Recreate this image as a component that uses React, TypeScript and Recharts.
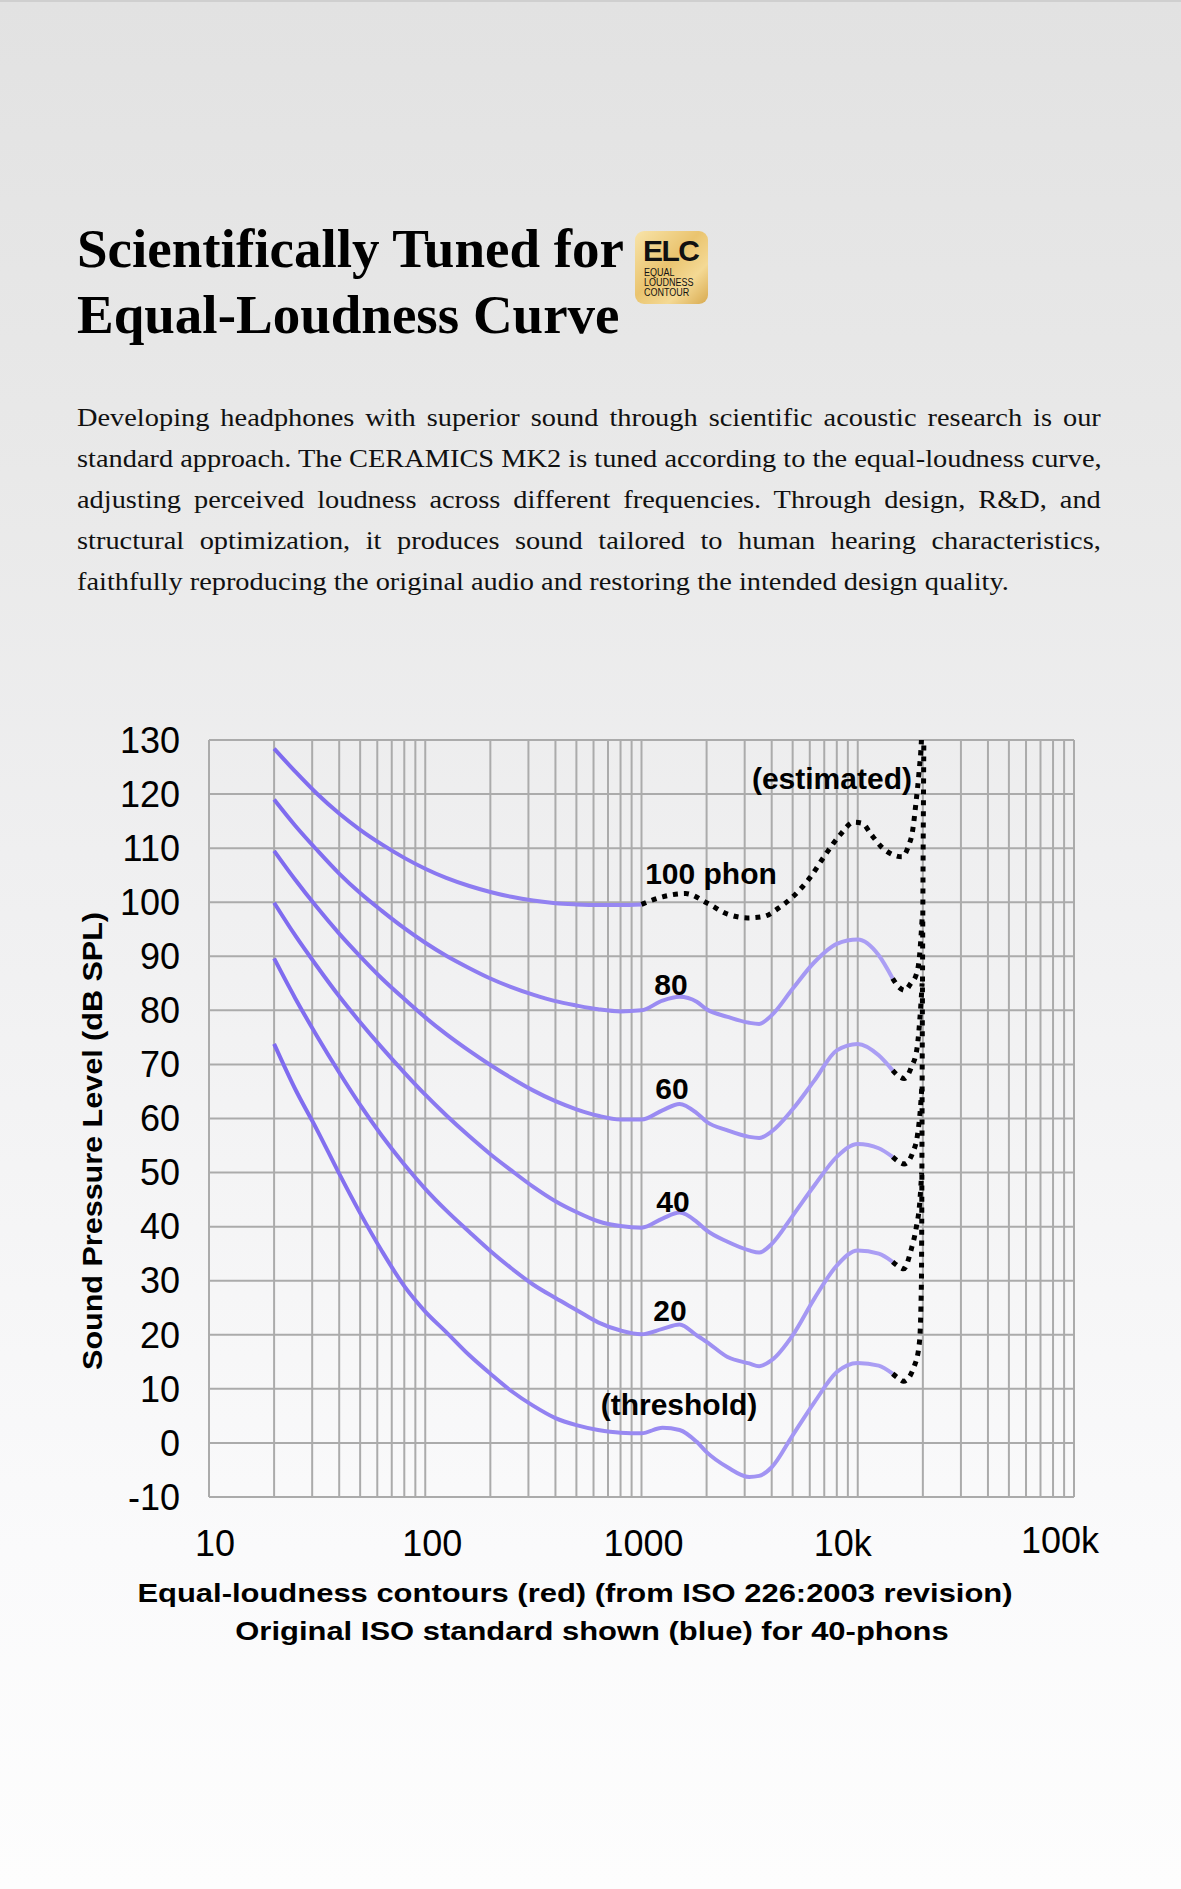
import React from "react";
import { LineChart, Line, XAxis, YAxis, CartesianGrid, ReferenceDot } from "recharts";

// frequencies (Hz) for the solid contours
const freqs = [20, 25, 31.5, 40, 50, 63, 80, 100, 125, 160, 200, 250, 315, 400, 500, 630, 800, 1000, 1250, 1500, 1800, 2000, 2500, 3150, 3500, 4000, 5000, 6300, 8000, 10000, 12500, 14500];

const threshold = [73.8, 65.5, 58, 49.8, 42.5, 35.5, 29, 24.3, 20.5, 16.2, 12.8, 9.6, 6.9, 4.6, 3.3, 2.4, 1.9, 1.8, 2.8, 2.4, 0.2, -1.7, -4.5, -6.3, -6.1, -4.5, 1.4, 7.5, 13.1, 14.8, 14.3, 12.8];
const phon20 = [89.6, 82.3, 75.3, 68.5, 62.5, 56.8, 51.5, 47, 43, 39, 35.5, 32.3, 29.3, 26.8, 24.6, 22.3, 20.8, 20.1, 21.1, 21.9, 19.9, 18.7, 15.9, 14.7, 14.2, 15.3, 19.9, 26.7, 32.8, 35.6, 35.0, 33.5];
const phon40 = [99.9, 93.9, 88.2, 82.6, 77.8, 73.1, 68.5, 64.4, 60.6, 56.7, 53.4, 50.4, 47.4, 44.7, 42.7, 41.0, 40.1, 39.8, 41.5, 42.6, 40.9, 39.3, 37.2, 35.6, 35.2, 36.8, 42.0, 47.6, 52.9, 55.3, 54.5, 52.9];
const phon60 = [109.5, 104.2, 99.1, 94.2, 90.0, 85.9, 82.1, 78.7, 75.6, 72.5, 69.9, 67.5, 65.2, 63.2, 61.7, 60.5, 59.8, 59.8, 61.5, 62.7, 61.0, 59.4, 57.8, 56.6, 56.4, 57.6, 61.7, 67.0, 72.6, 73.8, 71.7, 68.9];
const phon80 = [119.0, 114.2, 109.7, 105.3, 101.7, 98.4, 95.2, 92.5, 90.1, 87.8, 85.9, 84.3, 82.9, 81.7, 80.9, 80.2, 79.8, 80.0, 81.8, 82.5, 81.6, 80.2, 78.8, 77.7, 77.5, 79.1, 84.0, 88.9, 92.3, 93.1, 90.2, 85.9];
const phon100 = [128.4, 124.2, 120.1, 116.4, 113.4, 110.7, 108.2, 106.2, 104.5, 103.0, 101.9, 101.0, 100.3, 99.8, 99.6, 99.5, 99.5, 99.6];

// estimated (dotted) parts; the threshold one carries the vertical rise at 20 kHz
const est100F = [1000, 1250, 1600, 2000, 2500, 3100, 3700, 4300, 5100, 6000, 7060, 8300, 9600, 10500, 11500, 12900, 14500, 16000, 17200, 17900, 18600, 19200, 19700, 20100];
const est100 = [99.6, 101.0, 101.6, 99.9, 97.8, 97.1, 97.4, 98.9, 101.3, 104.5, 108.7, 112.5, 114.8, 114.6, 112.6, 110.2, 108.8, 108.4, 110.5, 113, 118.5, 124, 130, 140];
const est80F = [14500, 15500, 16500, 17600, 18600, 19300, 19850];
const est80 = [85.9, 84.3, 83.7, 85, 86.5, 90, 97];
const est60F = [14500, 15500, 16400, 17700, 18800, 19500, 19850];
const est60 = [68.9, 67.8, 67.4, 69.5, 73, 80, 85];
const est40F = [14500, 15500, 16400, 18000, 18900, 19500, 19800];
const est40 = [52.9, 52, 51.6, 53.8, 57, 62, 66];
const est20F = [14500, 15500, 16300, 17700, 18600, 19400, 19750];
const est20 = [33.5, 32.6, 32.2, 35.9, 39.6, 45, 50];
const estThF = [14500, 15500, 16300, 18300, 19300, 19700, 19900, 20300];
const estTh = [12.8, 11.9, 11.4, 14.3, 18.7, 30, 80, 140];

const xTicks = [10, 20, 30, 40, 50, 60, 70, 80, 90, 100, 200, 300, 400, 500, 600, 700, 800, 900, 1000, 2000, 3000, 4000, 5000, 6000, 7000, 8000, 9000, 10000, 20000, 30000, 40000, 50000, 60000, 70000, 80000, 90000, 100000];
const xLabels: Record<number, string> = { 10: "10", 100: "100", 1000: "1000", 10000: "10k", 100000: "100k" };
const yTicks = [-10, 0, 10, 20, 30, 40, 50, 60, 70, 80, 90, 100, 110, 120, 130];

const notes = [
  { text: "(estimated)", f: 7600, db: 122.9 },
  { text: "100 phon", f: 2096, db: 105.3 },
  { text: "80", f: 1369, db: 84.8 },
  { text: "60", f: 1384, db: 65.6 },
  { text: "40", f: 1398, db: 44.7 },
  { text: "20", f: 1353, db: 24.5 },
  { text: "(threshold)", f: 1491, db: 7.1 },
];

const pts = (fs: number[], vs: number[]) => fs.map((f, i) => ({ f, db: vs[i] }));

const solid = [
  pts(freqs.slice(0, phon100.length), phon100),
  pts(freqs, phon80),
  pts(freqs, phon60),
  pts(freqs, phon40),
  pts(freqs, phon20),
  pts(freqs, threshold),
];
const dotted = [
  pts(est100F, est100),
  pts(est80F, est80),
  pts(est60F, est60),
  pts(est40F, est40),
  pts(est20F, est20),
  pts(estThF, estTh),
];

const SANS = "'Liberation Sans', Arial, sans-serif";
const SERIF = "'Liberation Serif', 'Times New Roman', serif";

// the decade labels in the original sit a little off their gridlines
const tickNudge: Record<number, [number, number]> = {
  10: [6, 0],
  100: [7, 0],
  1000: [2, 0],
  10000: [-15, 0],
  100000: [-14, -3],
};

function FreqTick(props: any) {
  const { x, y, payload } = props;
  const label = xLabels[payload.value];
  if (!label) return null;
  const [dx, dy] = tickNudge[payload.value] || [0, 0];
  return (
    <text x={x + dx} y={y + dy} dy="0.71em" textAnchor="middle" fontSize={36} fill="#000" fontFamily={SANS}>
      {label}
    </text>
  );
}

const paragraph = [
  "Developing headphones with superior sound through scientific acoustic research is our",
  "standard approach. The CERAMICS MK2 is tuned according to the equal-loudness curve,",
  "adjusting perceived loudness across different frequencies. Through design, R&D, and",
  "structural optimization, it produces sound tailored to human hearing characteristics,",
  "faithfully reproducing the original audio and restoring the intended design quality.",
];

const badgeWords = ["EQUAL", "LOUDNESS", "CONTOUR"];

function Badge() {
  return (
    <div
      style={{
        position: "absolute",
        left: 635,
        top: 229,
        width: 73,
        height: 73,
        borderRadius: 9,
        background: "linear-gradient(135deg, #f8e4aa 0%, #eac46f 45%, #f4d994 72%, #d8aa50 100%)",
        fontFamily: SANS,
        color: "#111",
      }}
    >
      <div style={{ position: "absolute", left: 8, top: 5, fontSize: 30, lineHeight: "30px", fontWeight: 900, letterSpacing: -1.5 }}>ELC</div>
      {badgeWords.map((w, i) => (
        <div
          key={w}
          style={{
            position: "absolute",
            left: 9,
            top: 37 + i * 10,
            fontSize: 10,
            lineHeight: "10px",
            whiteSpace: "nowrap",
            transform: "scaleX(0.9)",
            transformOrigin: "left",
          }}
        >
          {w}
        </div>
      ))}
    </div>
  );
}

export default function App() {
  return (
    <div
      style={{
        position: "absolute",
        left: 0,
        top: 0,
        width: 1181,
        height: 1889,
        overflow: "hidden",
        borderTop: "2px solid #cfcfcf",
        boxSizing: "border-box",
        background: "linear-gradient(to bottom, #e2e2e2 0%, #e9e9e9 25%, #efeff0 45%, #f5f5f6 65%, #fafafb 82%, #fdfdfd 100%)",
      }}
    >
      <div
        style={{
          position: "absolute",
          left: 77,
          top: 214,
          fontFamily: SERIF,
          fontWeight: 700,
          fontSize: 55,
          lineHeight: "66px",
          color: "#000",
        }}
      >
        Scientifically Tuned for
        <br />
        Equal-Loudness Curve
      </div>
      <Badge />

      <div style={{ position: "absolute", left: 77, top: 395, fontFamily: SERIF, fontSize: 25, lineHeight: "41px", color: "#111" }}>
        {paragraph.map((line, i) => (
          <div
            key={i}
            style={{
              width: 902,
              textAlign: "justify",
              textAlignLast: i === paragraph.length - 1 ? "left" : "justify",
              transform: "scaleX(1.135)",
              transformOrigin: "left",
              whiteSpace: "nowrap",
            }}
          >
            {line}
          </div>
        ))}
      </div>

      <div style={{ position: "absolute", left: 0, top: 700 }}>
        <LineChart width={1181} height={870} margin={{ top: 38, right: 107, bottom: 5, left: 89 }}>
          <defs>
            <linearGradient id="curveGrad" gradientUnits="userSpaceOnUse" x1="270" y1="0" x2="900" y2="0">
              <stop offset="0%" stopColor="#7e6aef" />
              <stop offset="100%" stopColor="#aca0f4" />
            </linearGradient>
          </defs>
          <CartesianGrid stroke="#ababab" strokeWidth={2} />
          <XAxis
            type="number"
            dataKey="f"
            scale="log"
            domain={[10, 100000]}
            allowDataOverflow
            ticks={xTicks}
            interval={0}
            axisLine={false}
            tickLine={false}
            tickSize={0}
            tickMargin={33}
            height={70}
            tick={<FreqTick />}
          />
          <YAxis
            type="number"
            domain={[-10, 130]}
            allowDataOverflow
            ticks={yTicks}
            interval={0}
            axisLine={false}
            tickLine={false}
            tickSize={0}
            tickMargin={29}
            width={120}
            tick={{ fontSize: 36, fill: "#000", fontFamily: SANS }}
          />
          {solid.map((d, i) => (
            <Line
              key={"s" + i}
              data={d}
              dataKey="db"
              type="monotone"
              stroke="url(#curveGrad)"
              strokeWidth={4}
              dot={false}
              activeDot={false}
              isAnimationActive={false}
            />
          ))}
          {dotted.map((d, i) => (
            <Line
              key={"d" + i}
              data={d}
              dataKey="db"
              type="monotone"
              stroke="#000"
              strokeWidth={5}
              strokeDasharray="5 6"
              dot={false}
              activeDot={false}
              isAnimationActive={false}
            />
          ))}
          {notes.map((n) => (
            <ReferenceDot
              key={n.text}
              x={n.f}
              y={n.db}
              r={0}
              fill="none"
              stroke="none"
              label={{ value: n.text, position: "center", fontSize: 30, fontWeight: 700, fill: "#000", fontFamily: SANS }}
            />
          ))}
        </LineChart>
      </div>

      <div
        style={{
          position: "absolute",
          left: 93,
          top: 1139,
          fontFamily: SANS,
          fontWeight: 700,
          fontSize: 28,
          whiteSpace: "nowrap",
          color: "#000",
          transform: "translate(-50%, -50%) rotate(-90deg) scaleX(1.09)",
        }}
      >
        Sound Pressure Level (dB SPL)
      </div>

      <div style={{ position: "absolute", left: 0, top: 1572, width: 1150, textAlign: "center", fontFamily: SANS, fontWeight: 700, fontSize: 26, lineHeight: "38px", color: "#000" }}>
        <div style={{ transform: "scaleX(1.19)" }}>Equal-loudness contours (red) (from ISO 226:2003 revision)</div>
        <div style={{ transform: "scaleX(1.19)", position: "relative", left: 17 }}>Original ISO standard shown (blue) for 40-phons</div>
      </div>
    </div>
  );
}
